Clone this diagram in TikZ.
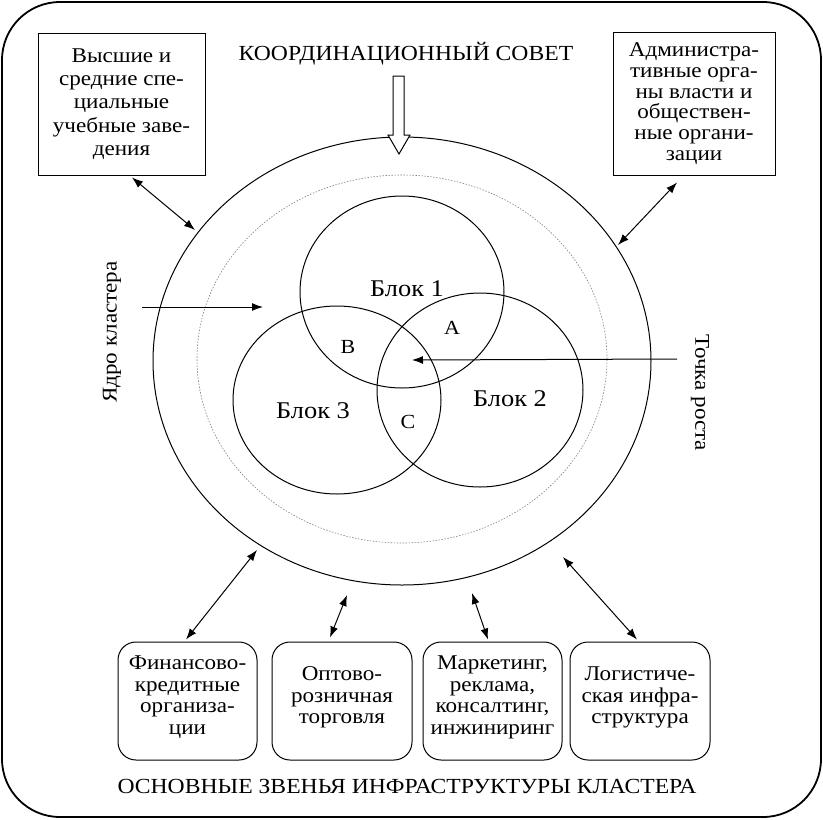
\documentclass[tikz,border=0pt]{standalone}
\usepackage{fontspec}
\setmainfont{Liberation Serif}[FakeStretch=1.1]
\usetikzlibrary{arrows.meta,calc}
\begin{document}
\begin{tikzpicture}[x=1pt,y=-1pt, line width=1pt,
  box/.style={draw, align=center, font=\fontsize{21}{23.3}\selectfont, inner sep=0pt},
  rbox/.style={box, font=\fontsize{21}{21.5}\selectfont, rounded corners=18pt, minimum width=139pt, minimum height=118pt},
  dbl/.style={{Latex[length=11pt,width=8pt]}-{Latex[length=11pt,width=8pt]}},
  sgl/.style={-{Latex[length=11pt,width=8pt]}},
  lbl/.style={font=\fontsize{21.5}{26}\selectfont, inner sep=0pt},
  blk/.style={font=\fontsize{24}{26}\selectfont, inner sep=0pt},
  zone/.style={font=\fontsize{20}{24}\selectfont, inner sep=0pt},
  side/.style={font=\fontsize{21}{24}\selectfont, inner sep=0pt},
  ring/.style={line width=1pt},
  dotring/.style={line width=0.6pt, gray, dash pattern=on 1.5pt off 1.5pt}]

\useasboundingbox (0,0) rectangle (823,820);
\draw[line width=1.8pt, rounded corners=58pt] (2,2) rectangle (821,817);

% top boxes
\node[box, minimum width=167pt, minimum height=142pt] (vuz) at (121.5,104)
  {Высшие и\\средние спе-\\циальные\\учебные заве-\\дения};
\node[box, font=\fontsize{21}{20.8}\selectfont, minimum width=162pt, minimum height=143pt] (adm) at (694,103.5)
  {Администра-\\тивные орга-\\ны власти и\\обществен-\\ные органи-\\зации};

\node[lbl] (council) at (406,54) {КООРДИНАЦИОННЫЙ СОВЕТ};

% big ellipse and dotted ellipse
\draw[ring] (402,361) ellipse [x radius=249pt, y radius=224pt];
\draw[dotring] (402,359) ellipse [x radius=205pt, y radius=184pt];

% hollow arrow from council
\draw[fill=white, line width=1pt, line join=miter]
  (393,76) -- (404,76) -- (404,135) -- (410,135) -- (399,154) -- (388,135) -- (393,135) -- cycle;

% three blocks
\draw[ring] (402,292) ellipse [x radius=102pt, y radius=96pt];
\draw[ring] (480,390) ellipse [x radius=103pt, y radius=97pt];
\draw[ring] (337,400) ellipse [x radius=104pt, y radius=94pt];

\node[blk] (b1) at (407,289) {Блок 1};
\node[blk] (b2) at (510,399) {Блок 2};
\node[blk] (b3) at (313,411) {Блок 3};
\node[zone] (ra) at (452,328) {A};
\node[zone] (rb) at (348,347) {B};
\node[zone] (rc) at (408,422) {C};

% side labels
\node[side, rotate=90] (core) at (112,332) {Ядро кластера};
\node[side, rotate=-90] (growth) at (700,393) {Точка роста};

\coordinate (coreS) at (142,307);
\coordinate (coreT) at (263,307);
\coordinate (grS) at (677,359);
\coordinate (grT) at (412,360);
\draw[sgl] (coreS) -- (coreT);
\draw[sgl] (grS) -- (grT);

% arrows to top boxes
\coordinate (eTL) at (195,230);
\coordinate (eTR) at (618,245);
\draw[dbl] ($(vuz.south)+(10.5,2)$) -- (eTL);
\draw[dbl] ($(adm.south)+(-17,7)$) -- (eTR);

% bottom boxes
\node[rbox] (fin) at (187.5,701) {Финансово-\\кредитные\\организа-\\ции\\[-10pt]\mbox{}};
\node[rbox, minimum width=140pt] (opt) at (342,701) {Оптово-\\розничная\\торговля\\[-10pt]\mbox{}};
\node[rbox] (mkt) at (492.5,701) {Маркетинг,\\реклама,\\консалтинг,\\инжиниринг\\[-10pt]\mbox{}};
\node[rbox, minimum width=140pt] (log) at (640,701) {Логистиче-\\ская инфра-\\структура\\[-10pt]\mbox{}};

\coordinate (eB1) at (257,550);
\coordinate (eB2) at (347,595);
\coordinate (eB3) at (472,593);
\coordinate (eB4) at (563,557);
\draw[dbl] ($(fin.north)+(-1.5,-2)$) -- (eB1);
\draw[dbl] ($(opt.north)+(-12,-4)$) -- (eB2);
\draw[dbl] ($(mkt.north)+(-4.5,-2)$) -- (eB3);
\draw[dbl] ($(log.north)+(-3,-2)$) -- (eB4);

\node[lbl] (infra) at (407,786) {ОСНОВНЫЕ ЗВЕНЬЯ ИНФРАСТРУКТУРЫ КЛАСТЕРА};
\end{tikzpicture}
\end{document}
